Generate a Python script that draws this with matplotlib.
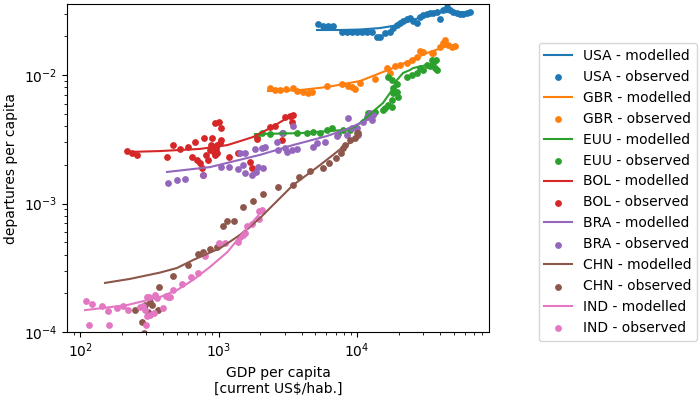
import matplotlib
matplotlib.use("Agg")
import matplotlib.pyplot as plt

countries = ["USA", "GBR", "EUU", "BOL", "BRA", "CHN", "IND"]

# ---- modelled curves (GDP per capita, departures per capita) ----
usa_mod_gdp = [5143, 7539, 10513, 14656, 18190, 24150, 32030, 41790, 55430, 67700]
usa_mod_dep = [0.0224, 0.0224, 0.0226, 0.0232, 0.0241, 0.0263, 0.0293, 0.0309, 0.0309, 0.0306]

gbr_mod_gdp = [2276, 3877, 6074, 10513, 18190, 32030, 44670, 52760]
gbr_mod_dep = [0.00750, 0.00764, 0.00806, 0.00898, 0.01133, 0.01483, 0.01680, 0.01711]

euu_mod_gdp = [1834, 3877, 7926, 9672, 11810, 13941, 15408, 17905, 19443, 21490, 24150, 25390, 32030, 37840]
euu_mod_dep = [0.00347, 0.00353, 0.00373, 0.00394, 0.00471, 0.00553, 0.00606, 0.00764, 0.00914, 0.01037, 0.01094, 0.01133, 0.01196, 0.01263]

bol_mod_gdp = [229.6, 378.1, 735.2, 1161, 1774, 2354, 3124, 3451]
bol_mod_dep = [0.00252, 0.00256, 0.00266, 0.00285, 0.00329, 0.00386, 0.00462, 0.00497]

bra_mod_gdp = [424.9, 868, 1993, 3451, 6074, 8471, 11810, 13711]
bra_mod_dep = [0.00176, 0.00192, 0.00239, 0.00285, 0.00335, 0.00380, 0.00446, 0.00489]

chn_mod_gdp = [151.5, 229.6, 378.1, 501.7, 654.5, 1034, 1429, 1993, 3451, 5406, 7926, 10168]
chn_mod_dep = [0.000241, 0.000259, 0.000290, 0.000315, 0.000363, 0.000451, 0.000569, 0.000771, 0.00139, 0.00199, 0.00275, 0.00323]

ind_mod_gdp = [108.7, 218.5, 378.1, 501.7, 654.5, 868, 1161, 1502, 2096]
ind_mod_dep = [0.000148, 0.000162, 0.000187, 0.000212, 0.000254, 0.000321, 0.000420, 0.000590, 0.000890]

# ---- observed points ----
usa_obs_gdp = [5229, 5683, 6177, 6710, 7794, 8471, 9202, 10000, 10867, 11810, 12827, 13941, 14656,
               15927, 17310, 18190, 19443, 20440, 21490, 22965, 24150, 25390, 27130, 28505, 29970,
               32030, 33680, 35410, 37840, 39750, 41790, 44670, 46960, 49370, 52760, 55430, 58270,
               62280, 65470]
usa_obs_dep = [0.0249, 0.0241, 0.0241, 0.0241, 0.0216, 0.0216, 0.0216, 0.0216, 0.0216, 0.0216, 0.0216,
               0.0198, 0.0198, 0.0212, 0.0216, 0.0232, 0.0245, 0.0254, 0.0263, 0.0273, 0.0278, 0.0263,
               0.0254, 0.0283, 0.0293, 0.0298, 0.0304, 0.0304, 0.0309, 0.0273, 0.0321, 0.0340, 0.0321,
               0.0309, 0.0304, 0.0298, 0.0298, 0.0304, 0.0309]

gbr_obs_gdp = [2354, 2558, 2780, 3072, 3451, 3688, 4076, 4430, 4731, 6074, 7794, 8614, 9202, 9672,
               10513, 13487, 16468, 17310, 18807, 20440, 22965, 24972, 27113, 28505, 29970, 34825,
               35410, 39750, 41790, 43210, 45420, 48550, 51040]
gbr_obs_dep = [0.00792, 0.00764, 0.00764, 0.00778, 0.00792, 0.00750, 0.00737, 0.00724, 0.00737,
               0.00821, 0.00850, 0.00821, 0.00806, 0.00778, 0.00866, 0.00930, 0.01133, 0.01037,
               0.01175, 0.01196, 0.01240, 0.01308, 0.01380, 0.01537, 0.01510, 0.01483, 0.01483,
               0.01651, 0.01774, 0.01872, 0.01711, 0.01651, 0.01680]

euu_obs_gdp = [1896, 2061, 2354, 2923, 3688, 4356, 4811, 5406, 6074, 6598, 7292, 7926, 8900,
               12015, 12410, 13487, 15408, 15927, 16746, 17905, 18190, 19443, 19770, 17905,
               16746, 17905, 18190, 19443, 22965, 24972, 27113, 28505, 29970, 32030, 33680,
               34825, 35410, 36610, 37840, 37220]
euu_obs_dep = [0.00329, 0.00353, 0.00347, 0.00353, 0.00353, 0.00353, 0.00360, 0.00353, 0.00373,
               0.00386, 0.00347, 0.00373, 0.00373, 0.00506, 0.00489, 0.00515, 0.00534, 0.00553,
               0.00584, 0.00639, 0.00724, 0.00737, 0.00674, 0.00563, 0.00964, 0.00914, 0.00792,
               0.00850, 0.00964, 0.01000, 0.01037, 0.01133, 0.01094, 0.01196, 0.01175, 0.01308,
               0.01240, 0.01133, 0.01094, 0.01308]

bol_obs_gdp = [218.5, 237.4, 258, 424.9, 469.5, 527.2, 602.4, 676.6, 644, 699.3, 735.2, 760, 773,
               786, 898, 943.5, 1000, 1034, 868, 913, 975, 1017, 975, 840, 943.5, 1181, 1372, 1687,
               1744, 1896, 2354, 2558, 2874, 3021, 3283, 3451, 3395, 928, 959, 883, 812, 1034]
bol_obs_dep = [0.00256, 0.00247, 0.00239, 0.00230, 0.00285, 0.00266, 0.00275, 0.00301, 0.00230,
               0.00218, 0.00207, 0.00189, 0.00167, 0.00323, 0.00323, 0.00423, 0.00430, 0.00386,
               0.00261, 0.00275, 0.00285, 0.00295, 0.00247, 0.00218, 0.00239, 0.00230, 0.00247,
               0.00211, 0.00189, 0.00317, 0.00393, 0.00400, 0.00312, 0.00471, 0.00480, 0.00489,
               0.00430, 0.00252, 0.00266, 0.00285, 0.00239, 0.00312]

bra_obs_gdp = [432.0, 501.7, 572.9, 773, 1034, 1181, 1372, 1429, 1553, 1502, 1553, 1744, 1865,
               1928, 2096, 1834, 2061, 2166, 2644, 2689, 2874, 3021, 3124, 3395, 3688, 3451, 4811,
               5143, 5875, 7171, 8471, 8614, 9202, 10000, 10168, 11050, 11810, 12422, 13042, 12827]
bra_obs_dep = [0.00144, 0.00152, 0.00155, 0.00167, 0.00192, 0.00192, 0.00185, 0.00247, 0.00247,
               0.00199, 0.00172, 0.00167, 0.00176, 0.00192, 0.00189, 0.00266, 0.00271, 0.00275,
               0.00301, 0.00261, 0.00353, 0.00271, 0.00252, 0.00261, 0.00266, 0.00400, 0.00275,
               0.00295, 0.00301, 0.00335, 0.00341, 0.00462, 0.00386, 0.00386, 0.00341, 0.00430,
               0.00471, 0.00506, 0.00489, 0.00446]

chn_obs_gdp = [249.5, 280.3, 289.9, 294.8, 309.9, 320.4, 331.3, 366, 372, 469.5, 602.4, 711, 773,
               868, 983, 1069, 1161, 1283, 1502, 1774, 2096, 2689, 3451, 3813, 4579, 5683, 6284,
               7053, 7666, 7926, 8194, 8900, 9672, 10000, 10168]
chn_obs_dep = [0.000148, 0.000120, 0.000099, 0.000162, 0.000143, 0.000171, 0.000162, 0.000148,
               0.000224, 0.000273, 0.000333, 0.000405, 0.000420, 0.000443, 0.000459, 0.000669,
               0.000731, 0.000731, 0.000939, 0.001046, 0.00118, 0.00134, 0.00139, 0.00160, 0.00179,
               0.00189, 0.00207, 0.00226, 0.00247, 0.00271, 0.00285, 0.00312, 0.00323, 0.00353,
               0.00353]

ind_obs_gdp = [110.5, 116.1, 122.0, 144.1, 159.3, 162.0, 185.0, 204.4, 222.2, 271.2, 285.0, 294.8,
               304.7, 315.1, 304.7, 299.7, 320.4, 342.5, 348.3, 360, 397.5, 417.8, 432.0, 446.6,
               469.5, 545, 632, 711, 798.8, 1000, 1105, 1372, 1429, 1502, 1553, 1606, 1744, 1960,
               1960, 2061]
ind_obs_dep = [0.000174, 0.000113, 0.000165, 0.000159, 0.000145, 0.000113, 0.000153, 0.000159,
               0.000148, 0.000156, 0.000159, 0.000148, 0.000187, 0.000187, 0.000133, 0.000113,
               0.000136, 0.000140, 0.000194, 0.000184, 0.000153, 0.000190, 0.000187, 0.000187,
               0.000212, 0.000236, 0.000268, 0.000288, 0.000390, 0.000493, 0.000493, 0.000502,
               0.000549, 0.000569, 0.000590, 0.000669, 0.000693, 0.000758, 0.000874, 0.000890]

modelled = [(usa_mod_gdp, usa_mod_dep), (gbr_mod_gdp, gbr_mod_dep), (euu_mod_gdp, euu_mod_dep),
            (bol_mod_gdp, bol_mod_dep), (bra_mod_gdp, bra_mod_dep), (chn_mod_gdp, chn_mod_dep),
            (ind_mod_gdp, ind_mod_dep)]
observed = [(usa_obs_gdp, usa_obs_dep), (gbr_obs_gdp, gbr_obs_dep), (euu_obs_gdp, euu_obs_dep),
            (bol_obs_gdp, bol_obs_dep), (bra_obs_gdp, bra_obs_dep), (chn_obs_gdp, chn_obs_dep),
            (ind_obs_gdp, ind_obs_dep)]

colors = plt.rcParams['axes.prop_cycle'].by_key()['color']

fig = plt.figure(figsize=(7, 4), dpi=100)
ax = fig.add_axes([0.0957, 0.17, 0.6029, 0.82])

for i, c in enumerate(countries):
    mg, md = modelled[i]
    og, od = observed[i]
    ax.plot(mg, md, color=colors[i], lw=1.5, label=f"{c} - modelled")
    ax.scatter(og, od, color=colors[i], s=15, label=f"{c} - observed")

ax.set_xscale("log")
ax.set_yscale("log")
ax.set_xlim(80.5, 89800)
ax.set_ylim(1e-4, 0.0357)
ax.set_xlabel("GDP per capita\n[current US$/hab.]")
ax.set_ylabel("departures per capita")
ax.legend(loc="center left", bbox_to_anchor=(1.101, 0.427), scatterpoints=1)

fig.savefig("out.png", dpi=100)
